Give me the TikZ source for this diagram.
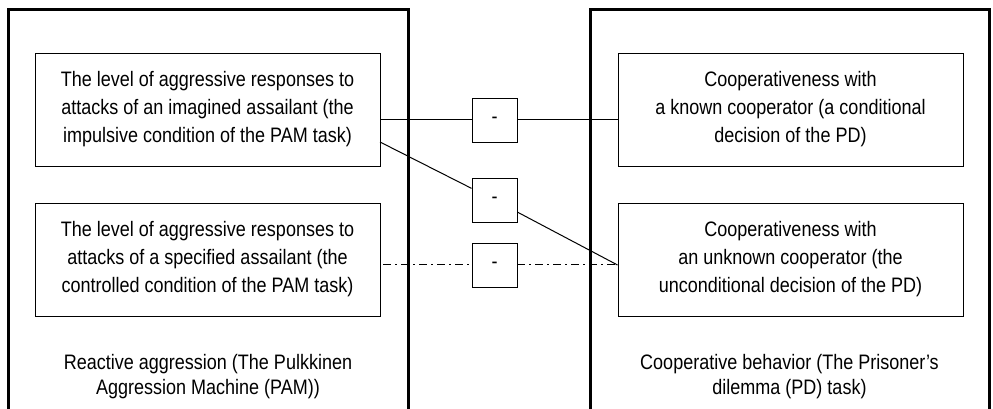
\documentclass[tikz,border=0pt]{standalone}
\usepackage{fontspec}
\setmainfont{Liberation Sans}[FakeStretch=0.86]
\begin{document}
\begin{tikzpicture}[x=0.75pt, y=-0.75pt,
  outer/.style={draw, line width=2.25pt, minimum height=307.5pt},
  inbox/.style={draw, line width=0.7pt, minimum width=258.75pt, minimum height=84.75pt, align=center},
  signbox/.style={draw, fill=white, line width=0.7pt, minimum width=33.75pt, minimum height=33pt},
  caption/.style={align=center, font=\fontsize{15.7}{18.75}\selectfont}]
\useasboundingbox (0,0) rectangle (993,409);
\clip (0,0) rectangle (993,409);
\fontsize{15.7}{21}\selectfont
\node[outer, minimum width=300pt] (aggr) at (208,215) {};
\node[outer, minimum width=299.25pt] (coop) at (789.5,215) {};
\node[inbox] (imag) at (207.5,109.5) {The level of aggressive responses to\\attacks of an imagined assailant (the\\impulsive condition of the PAM task)};
\node[inbox] (spec) at (207.5,259.5) {The level of aggressive responses to\\attacks of a specified assailant (the\\controlled condition of the PAM task)};
\node[inbox] (known) at (790.5,109.5) {Cooperativeness with\\a known cooperator (a conditional\\decision of the PD)};
\node[inbox] (unkn) at (790.5,259.5) {Cooperativeness with\\an unknown cooperator (the\\unconditional decision of the PD)};
\node[caption] (aggrcap) at (208,377) {Reactive aggression (The Pulkkinen\\Aggression Machine (PAM))};
\node[caption] (coopcap) at (789.5,377) {Cooperative behavior (The Prisoner's\\dilemma (PD) task)};
\node[signbox] (sa) at (494.5,120) {-};
\node[signbox] (sb) at (494.5,200) {-};
\node[signbox] (sc) at (494.5,265) {-};
\coordinate (imagout) at (imag.east |- sa);
\coordinate (knownin) at (known.west |- sa);
\coordinate (imagdiag) at (380,142);
\coordinate (unknin) at (unkn.west |- sc);
\coordinate (specout) at (383,265);
\draw[line width=0.75pt] (imagout) -- (sa) -- (knownin);
\draw[line width=0.75pt] (imagdiag) -- (sb) -- (unknin);
\draw[line width=0.75pt, dash pattern=on 6pt off 3pt on 1.5pt off 3pt] (specout) -- (sc) -- (unknin);
\end{tikzpicture}
\end{document}
